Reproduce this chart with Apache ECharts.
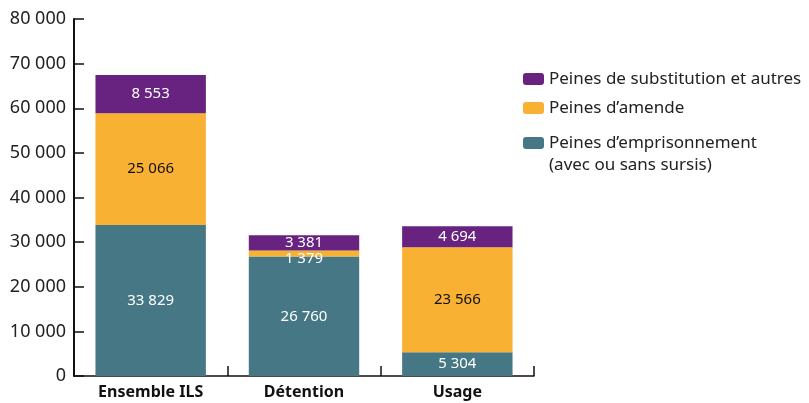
<!DOCTYPE html>
<html>
<head>
<meta charset="utf-8">
<script src="https://cdn.jsdelivr.net/npm/echarts@6/dist/echarts.min.js"></script>
<style>
  html, body { margin: 0; padding: 0; background: #fff; }
  #chart { width: 809px; height: 403px; }
</style>
</head>
<body>
<div id="chart"></div>
<script>
// données
var categories = ['Ensemble ILS', 'Détention', 'Usage'];
var emprisonnement = [33829, 26760, 5304];
var amende = [25066, 1379, 23566];
var substitution = [8553, 3381, 4694];
var yTicks = [0, 10000, 20000, 30000, 40000, 50000, 60000, 70000, 80000];

var nomSub = 'Peines de substitution et autres';
var nomAmende = 'Peines d\u2019amende';
var nomEmp = 'Peines d\u2019emprisonnement';
var nomEmpSuite = '(avec ou sans sursis)';

var FONT = '"Noto Sans", sans-serif';

function fmt(v) {
  return String(v).replace(/\B(?=(\d{3})+(?!\d))/g, ' ');
}

var myChart = echarts.init(document.getElementById('chart'));

var labelBase = {
  show: true,
  position: 'inside',
  fontFamily: FONT,
  fontSize: 15,
  formatter: function (p) { return fmt(p.value); }
};

var legendBase = {
  orient: 'vertical',
  left: 523,
  padding: 0,
  itemWidth: 21,
  itemHeight: 12,
  itemGap: 9,
  textStyle: { fontFamily: FONT, fontSize: 17, color: '#222', lineHeight: 20 }
};

myChart.setOption({
  animation: false,
  grid: { left: 74, right: 275, top: 19, bottom: 27 },
  legend: [
    Object.assign({}, legendBase, { top: 69, data: [nomSub, nomAmende] }),
    Object.assign({}, legendBase, { top: 133, data: [nomEmp] })
  ],
  graphic: [{
    type: 'text',
    left: 549,
    top: 157,
    style: { text: nomEmpSuite, fontFamily: FONT, fontSize: 17, fill: '#222' }
  }],
  xAxis: {
    type: 'category',
    data: categories,
    axisLine: { lineStyle: { color: '#111', width: 1.5 } },
    axisTick: { show: true, inside: true, length: 10, lineStyle: { color: '#111', width: 1.5 } },
    axisLabel: { fontFamily: FONT, fontSize: 16, fontWeight: 'bold', color: '#111', margin: 8 }
  },
  yAxis: {
    type: 'value',
    min: yTicks[0],
    max: yTicks[yTicks.length - 1],
    interval: 10000,
    splitLine: { show: false },
    axisLine: { show: true, lineStyle: { color: '#111', width: 2 } },
    axisTick: { show: true, inside: true, length: 10, lineStyle: { color: '#111', width: 1.5 } },
    axisLabel: {
      fontFamily: FONT, fontSize: 18, color: '#222', margin: 8,
      formatter: function (v) { return fmt(v); }
    }
  },
  series: [
    {
      name: nomEmp, type: 'bar', stack: 'total', barWidth: '72%',
      itemStyle: { color: '#457784' },
      label: Object.assign({}, labelBase, { color: '#fff' }),
      data: emprisonnement
    },
    {
      name: nomAmende, type: 'bar', stack: 'total',
      itemStyle: { color: '#f8b133' },
      label: Object.assign({}, labelBase, { color: '#111' }),
      data: amende.map(function (v) {
        if (v < 3000) {
          return { value: v, label: { color: '#fff', offset: [0, 5] } };
        }
        return v;
      })
    },
    {
      name: nomSub, type: 'bar', stack: 'total',
      itemStyle: { color: '#68227f' },
      label: Object.assign({}, labelBase, { color: '#fff' }),
      data: substitution
    }
  ]
});
</script>
</body>
</html>
